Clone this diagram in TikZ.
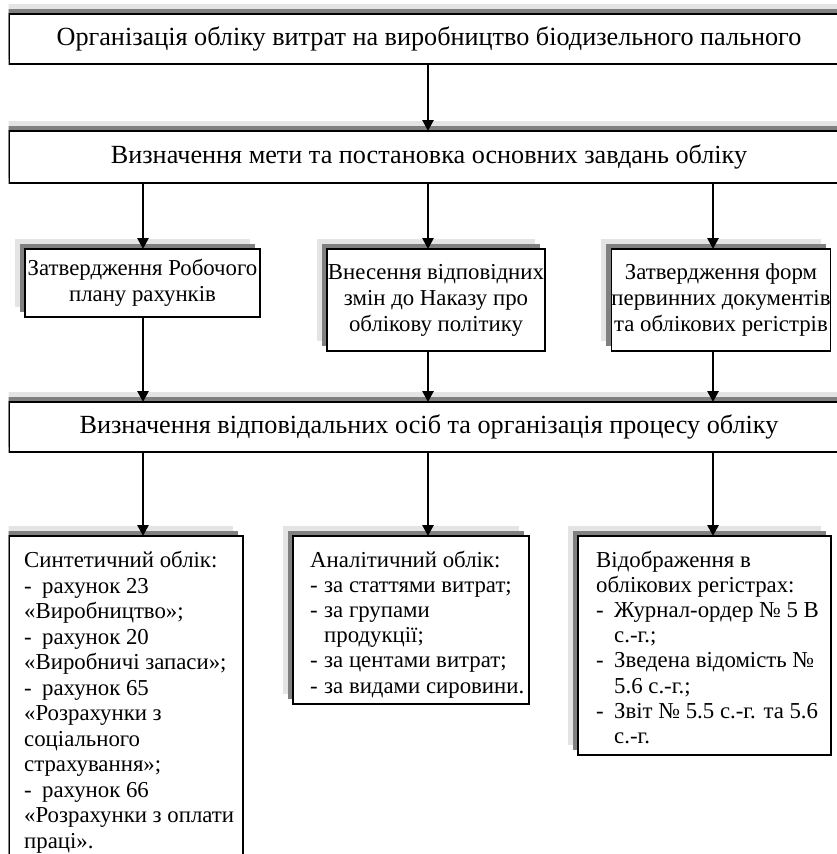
\documentclass[tikz,border=0pt]{standalone}
\usepackage{fontspec}
\setmainfont{Liberation Serif}
\usetikzlibrary{arrows.meta,shadows}
\definecolor{shlight}{HTML}{E4E4E4}
\definecolor{shdark}{HTML}{808080}
\newcommand\myWideFont{\fontsize{26.2}{30}\selectfont}
\newcommand\myMidFont{\fontsize{22.8}{26}\selectfont}
\newcommand\myBodyFont{\fontsize{22.8}{25.1}\selectfont}
\newcommand\myLongFont{\fontsize{22.8}{25.5}\selectfont}
\begin{document}
\begin{tikzpicture}[x=1pt,y=-1pt,
  sbox/.style={draw=black, line width=1.8pt, fill=white, inner sep=0pt, outer sep=0pt,
    general shadow={draw=none, fill=shlight, shadow xshift=-10pt, shadow yshift=10pt},
    general shadow={draw=none, fill=shdark, shadow xshift=-5pt, shadow yshift=5pt}},
  wide/.style={sbox, minimum width=840pt, font=\myWideFont},
  mid/.style={sbox, align=center, font=\myMidFont},
  bot/.style={sbox, anchor=north west},
  btext/.style={anchor=north west, align=left, inner sep=0pt, font=\myBodyFont},
  arr/.style={line width=2.6pt, -{Triangle[width=11pt,length=11pt]}}]
\useasboundingbox (0,0) rectangle (837,854);
\clip (8.5,0) rectangle (837,854);
\fill[white] (0,0) rectangle (837,854);
% wide boxes
\node[wide, minimum height=50pt] (t1) at (429,39) {Організація обліку витрат на виробництво біодизельного пального};
\node[wide, minimum height=52pt] (t2) at (429,157) {Визначення мети та постановка основних завдань обліку};
\node[wide, minimum height=50pt] (t3) at (429,427) {Визначення відповідальних осіб та організація процесу обліку};
% middle boxes
\node[mid, minimum width=235pt, minimum height=68pt] (mA) at (142.5,283) {Затвердження Робочого\\плану рахунків};
\node[mid, minimum width=218pt, minimum height=102pt] (mB) at (436,300) {Внесення відповідних\\змін до Наказу про\\облікову політику};
\node[mid, minimum width=218pt, minimum height=102pt] (mC) at (721,300) {Затвердження форм\\первинних документів\\та облікових регістрів};
% bottom boxes
\node[bot, minimum width=234pt, minimum height=340pt] (bD) at (9,536) {};
\node[bot, minimum width=236pt, minimum height=168pt] (bE) at (293,536) {};
\node[bot, minimum width=253pt, minimum height=219pt] (bF) at (578,536) {};
\node[btext, font=\myLongFont] (tD) at (24,551) {Синтетичний облік:\\\makebox[18pt][l]{-}рахунок 23\\«Виробництво»;\\\makebox[18pt][l]{-}рахунок 20\\«Виробничі запаси»;\\\makebox[18pt][l]{-}рахунок 65\\«Розрахунки з\\соціального\\страхування»;\\\makebox[18pt][l]{-}рахунок 66\\«Розрахунки з оплати\\праці».};
\node[btext] (tE) at (310,551) {Аналітичний облік:\\\makebox[14pt][l]{-}за статтями витрат;\\\makebox[14pt][l]{-}за групами\\\hspace*{14pt}продукції;\\\makebox[14pt][l]{-}за центами витрат;\\\makebox[14pt][l]{-}за видами сировини.};
\node[btext] (tF) at (596,551) {Відображення в\\облікових регістрах:\\\makebox[18pt][l]{-}Журнал-ордер № 5 В\\\hspace*{18pt}с.-г.;\\\makebox[18pt][l]{-}Зведена відомість №\\\hspace*{18pt}5.6 с.-г.;\\\makebox[18pt][l]{-}Звіт № 5.5 с.-г. та 5.6\\\hspace*{18pt}с.-г.};
% connectors
\coordinate (c1) at (143,0);
\coordinate (c2) at (428,0);
\coordinate (c3) at (713,0);
\draw[arr] (t1.south -| c2) -- (t2.north -| c2);
\draw[arr] (t2.south -| c1) -- (mA.north -| c1);
\draw[arr] (t2.south -| c2) -- (mB.north -| c2);
\draw[arr] (t2.south -| c3) -- (mC.north -| c3);
\draw[arr] (mA.south -| c1) -- (t3.north -| c1);
\draw[arr] (mB.south -| c2) -- (t3.north -| c2);
\draw[arr] (mC.south -| c3) -- (t3.north -| c3);
\draw[arr] (t3.south -| c1) -- (bD.north -| c1);
\draw[arr] (t3.south -| c2) -- (bE.north -| c2);
\draw[arr] (t3.south -| c3) -- (bF.north -| c3);
\end{tikzpicture}
\end{document}
